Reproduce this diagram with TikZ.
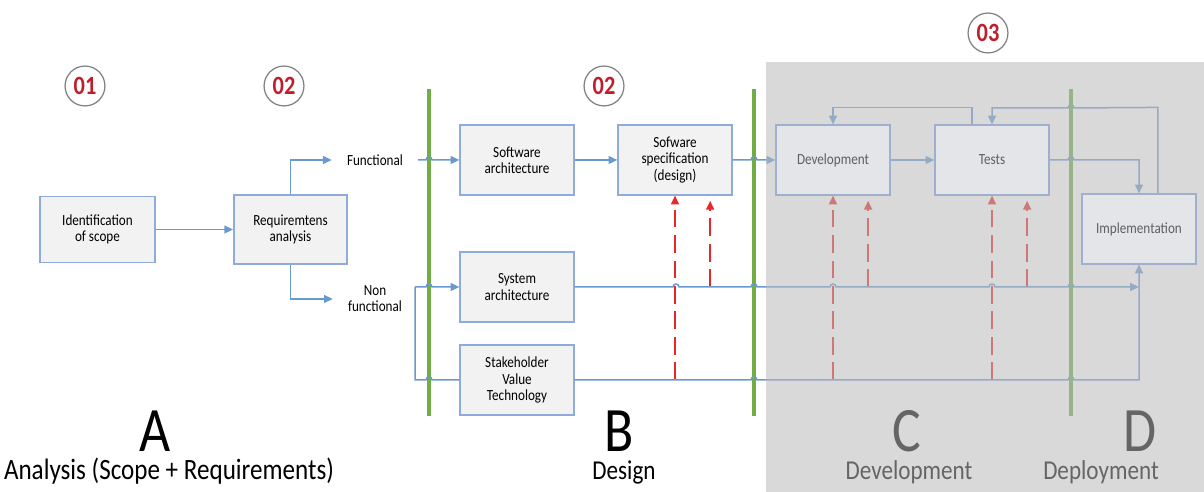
\documentclass[tikz,border=0pt]{standalone}
\usepackage{fontspec}
\setmainfont{Carlito}[FakeStretch=0.85]
\usepackage{tikz}
\usetikzlibrary{arrows.meta}
\definecolor{boxfill}{RGB}{242,242,242}
\definecolor{boxline}{RGB}{143,170,220}
\definecolor{fadefill}{RGB}{227,229,233}
\definecolor{fadeline}{RGB}{158,176,205}
\definecolor{fadetext}{RGB}{95,95,95}
\definecolor{flowblue}{RGB}{106,153,208}
\definecolor{lanegreen}{RGB}{112,173,71}
\definecolor{feedred}{RGB}{230,40,40}
\definecolor{badgered}{RGB}{192,30,45}
\definecolor{shadegray}{RGB}{185,185,185}
\pgfdeclarelayer{veil}
\pgfdeclarelayer{front}
\pgfsetlayers{main,veil,front}
% small bump where a connector jumps over another line
\newcommand{\hop}[2]{-- (#1-3,#2) arc[start angle=180,end angle=0,radius=1.7pt]}
\newcommand{\hopback}[2]{-- (#1+3,#2) arc[start angle=0,end angle=180,radius=1.7pt]}

\begin{document}
\begin{tikzpicture}[x=0.02cm,y=-0.02cm,
    box/.style={draw=boxline,fill=boxfill,line width=0.7pt,align=center,
      minimum width=64.9pt,minimum height=39.8pt,inner sep=1pt,
      text=black,font=\fontsize{8.8}{9.2}\selectfont},
    fadebox/.style={box,draw=fadeline,fill=fadefill,text=fadetext},
    side/.style={align=center,inner xsep=8.5pt,inner ysep=1pt,
      text=black,font=\fontsize{8.8}{9.2}\selectfont},
    badge/.style={circle,draw=black!50,line width=0.7pt,minimum size=22.7pt,
      inner sep=0pt,text=badgered,font=\fontsize{15}{15}\selectfont\bfseries},
    big/.style={anchor=base,inner sep=0pt,font=\fontsize{36}{36}\selectfont},
    phase/.style={anchor=base,inner sep=0pt,font=\fontsize{15.5}{16}\selectfont},
    flow/.style={draw=flowblue,line width=0.85pt,-{Triangle[length=5pt,width=4.5pt]}},
    link/.style={draw=flowblue,line width=0.85pt},
    feed/.style={draw=feedred,line width=1pt,dash pattern=on 10pt off 4.5pt,
      -{Triangle[length=5pt,width=4.5pt]}},
    lane/.style={draw=lanegreen,line width=2.8pt}]
    \useasboundingbox (0,0) rectangle (1204,492);
    % step numbers
    \node[badge] (b1) at (85,86) {01};
    \node[badge] (b2) at (284,86) {02};
    \node[badge] (b3) at (604,86) {02};
    \node[badge] (b4) at (988,33) {03};
    % phase borders
    \draw[lane] (429,89) -- (429,416);
    \draw[lane] (754,89) -- (754,416);
    \draw[lane] (1071,89) -- (1071,416);
    % boxes
    \node[box,minimum width=65.4pt,minimum height=37.5pt] (ident) at (97.5,229.5) {Identification\\of scope};
    \node[box,line width=1.1pt,minimum width=64.3pt,minimum height=39.3pt] (req) at (290.5,229.5) {Requiremtens\\analysis};
    \node[side] (func) at (375,160) {Functional};
    \node[side] (nonf) at (375,299) {Non\\functional};
    \node[box] (soft) at (517,160) {Software\\architecture};
    \node[box] (spec) at (675,160) {Sofware\\specification\\(design)};
    \node[box] (sys) at (517,287) {System\\architecture};
    \node[box] (stake) at (517,380) {Stakeholder\\Value\\Technology};
    \begin{pgfonlayer}{front}
      \node[fadebox] (dev) at (833,160) {Development};
      \node[fadebox] (tests) at (992,160) {Tests};
      \node[fadebox] (impl) at (1139,229) {Implementation};
    \end{pgfonlayer}
    % red inputs
    \foreach \b in {spec,dev,tests} {
      \path ([xshift=20pt]\b.south) coordinate (\b-r);
      \draw[feed] (\b.south |- stake.east) -- (\b.south);
      \draw[feed] (\b-r |- sys.east) -- ([yshift=-3pt]\b-r);
    }
    % analysis
    \draw[flow] (ident) -- (req);
    \draw[flow] (req.north) |- (func.west);
    \draw[flow] (req.south) |- (nonf.west);
    % design
    \coordinate (nftop) at (415,287);
    \coordinate (nfbot) at (415,380);
    \draw[flow] (func.east) \hop{429}{160} -- (soft.west);
    \draw[flow] (soft) -- (spec);
    \draw[flow] (nftop) \hop{429}{287} -- (sys.west);
    \draw[link] (nftop) -- (nfbot) \hop{429}{380} -- (stake.west);
    % development
    \draw[flow] (spec.east) \hop{754}{160} -- (dev.west);
    \draw[flow] (dev) -- (tests);
    \draw[flow] (tests.east) \hop{1071}{160} -| (impl.north);
    \draw[flow] ([xshift=-11.4pt]tests.north) -- ++(0,-17) -| (dev.north);
    \draw[flow] ([xshift=10.8pt]impl.north) -- ++(0,-86) \hopback{1071}{108} -| (tests.north);
    % non functional lines into implementation
    \draw[flow] (sys.east) \hop{676}{287} \hop{754}{287} \hop{833}{287}
      \hop{992}{287} \hop{1071}{287} -- (impl.south |- sys.east);
    \draw[flow] (stake.east) \hop{754}{380} \hop{1071}{380} -| (impl.south);
    % phase names
    \node[big] (la) at (155,452) {A};
    \node[big] (lb) at (619,452) {B};
    \node[big] (lc) at (907,452) {C};
    \node[big] (ld) at (1140,452) {D};
    \node[phase,font=\fontsize{16.8}{17}\selectfont] (pa) at (169,480) {Analysis (Scope + Requirements)};
    \node[phase] (pb) at (624,480) {Design};
    \node[phase] (pc) at (909,480) {Development};
    \node[phase] (pd) at (1101,480) {Deployment};
    % shaded part
    \begin{pgfonlayer}{veil}
      \fill[shadegray,opacity=0.55] (766,62) rectangle (1204,492);
    \end{pgfonlayer}
  \end{tikzpicture}
\end{document}
